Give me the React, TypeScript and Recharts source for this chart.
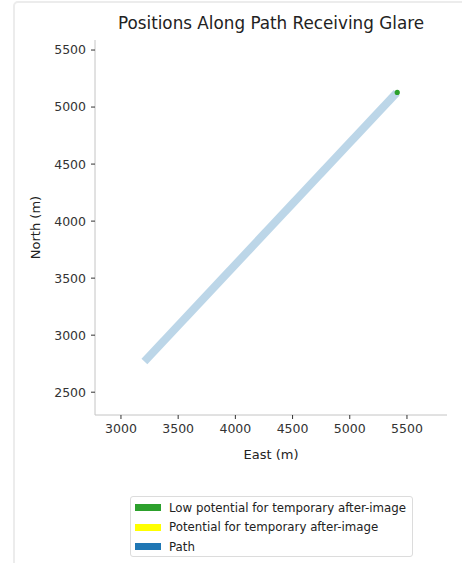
import { ComposedChart, Line, Scatter, XAxis, YAxis, Legend } from "recharts";

const pathEast = [3205, 5410];
const pathNorth = [2770, 5125];
const glareEast = [5415];
const glareNorth = [5128];
const xTicks = [3000, 3500, 4000, 4500, 5000, 5500];
const yTicks = [2500, 3000, 3500, 4000, 4500, 5000, 5500];
const legendItems = [
  { label: "Low potential for temporary after-image", color: "#2ca02c" },
  { label: "Potential for temporary after-image", color: "#ffff00" },
  { label: "Path", color: "#1f77b4" },
];

const pathData = pathEast.map((x, i) => ({ x, y: pathNorth[i] }));
const glareData = glareEast.map((x, i) => ({ x, y: glareNorth[i] }));

const font = "'DejaVu Sans', sans-serif";
const tickStyle = { fontSize: 12.5, fill: "#333", fontFamily: font };

const LegendBox = () => (
  <div
    style={{
      position: "absolute",
      left: 130,
      top: 496,
      width: 283,
      height: 61,
      border: "1px solid #dcdcdc",
      borderRadius: 3,
      boxSizing: "border-box",
      padding: "1px 0 0 4px",
      fontFamily: font,
      fontSize: 11.8,
      color: "#222",
      background: "#fff",
    }}
  >
    {legendItems.map((it) => (
      <div key={it.label} style={{ display: "flex", alignItems: "center", height: 19.5 }}>
        <span style={{ width: 26, height: 7, background: it.color, marginRight: 8 }} />
        <span>{it.label}</span>
      </div>
    ))}
  </div>
);

const App = () => (
  <div style={{ position: "fixed", left: 0, top: 0, width: 462, height: 563, background: "#fff" }}>
    <div
      style={{
        position: "absolute",
        left: 13,
        top: 1,
        width: 520,
        height: 620,
        border: "2px solid #ececec",
        borderRadius: 5,
      }}
    />
    <div
      style={{
        position: "absolute",
        left: 95,
        width: 352,
        top: 13,
        textAlign: "center",
        fontFamily: font,
        fontSize: 16.8,
        color: "#222",
      }}
    >
      Positions Along Path Receiving Glare
    </div>
    <div style={{ position: "absolute", left: 0, top: 0 }}>
      <ComposedChart width={462} height={563} margin={{ top: 40, right: 15, bottom: 104, left: 39 }}>
        <XAxis
          type="number"
          dataKey="x"
          domain={[2773, 5850]}
          ticks={xTicks}
          allowDataOverflow
          height={44}
          tick={tickStyle}
          tickSize={4}
          tickMargin={5}
          axisLine={{ stroke: "#c4c4c4" }}
          tickLine={{ stroke: "#333" }}
          label={{ value: "East (m)", position: "insideBottom", offset: 0, style: { ...tickStyle, fontSize: 13, fill: "#222" } }}
        />
        <YAxis
          type="number"
          dataKey="y"
          domain={[2300, 5588]}
          ticks={yTicks}
          allowDataOverflow
          width={56}
          tick={tickStyle}
          tickSize={4}
          tickMargin={5}
          axisLine={{ stroke: "#c4c4c4" }}
          tickLine={{ stroke: "#333" }}
          label={{ value: "North (m)", angle: -90, position: "insideLeft", offset: -4, style: { ...tickStyle, fontSize: 13, fill: "#222", textAnchor: "middle" } }}
        />
        <Line
          data={pathData}
          dataKey="y"
          stroke="#bcd6e8"
          strokeWidth={8}
          strokeLinecap="butt"
          dot={false}
          activeDot={false}
          isAnimationActive={false}
          legendType="none"
        />
        <Scatter
          data={glareData}
          dataKey="y"
          fill="#2ca02c"
          shape={(p: any) => <circle cx={p.cx} cy={p.cy} r={2.6} fill="#2ca02c" />}
          isAnimationActive={false}
          legendType="none"
        />
        <Legend content={() => null} />
      </ComposedChart>
    </div>
    <LegendBox />
  </div>
);

export default App;
